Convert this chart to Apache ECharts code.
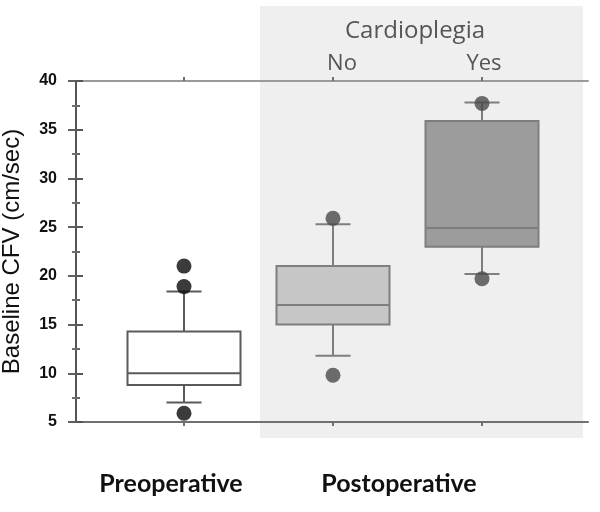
<!DOCTYPE html>
<html>
<head>
<meta charset="utf-8">
<script src="https://cdn.jsdelivr.net/npm/echarts@6/dist/echarts.min.js"></script>
<style>
html,body{margin:0;padding:0;background:#fff;}
#chart{width:600px;height:512px;}
</style>
</head>
<body>
<div id="chart"></div>
<script>
// ---- data ----
const categories = ['Preoperative', 'No', 'Yes'];
const whiskerLow = [7.0, 11.8, 20.2];
const q1 = [8.8, 15.0, 23.0];
const median = [10.0, 17.0, 24.9];
const q3 = [14.3, 21.0, 35.9];
const whiskerHigh = [18.4, 25.3, 37.8];
const outlierCat = [0, 0, 0, 1, 1, 2, 2];
const outlierVal = [21.0, 18.9, 5.9, 25.9, 9.8, 37.7, 19.7];
const yTicks = { min: 5, max: 40, interval: 5 };
const groupTitle = 'Cardioplegia';
const groupLabels = ['No', 'Yes'];
const phaseLabels = ['Preoperative', 'Postoperative'];
const yAxisName = 'Baseline CFV (cm/sec)';

// ---- styles ----
const boxFill = ['#ffffff', '#c6c6c6', '#9c9c9c'];
const boxStroke = ['#5a5a5a', '#7e7e7e', '#7e7e7e'];
const dotColor = ['#0a0a0a', '#4a4a4a', '#4a4a4a'];
const BOX_W = 113, CAP_W = 35;

const boxRows = categories.map((c, i) => [i, whiskerLow[i], q1[i], median[i], q3[i], whiskerHigh[i]]);
const outlierRows = outlierCat.map((c, i) => ({ value: [c, outlierVal[i]], itemStyle: { color: dotColor[c] } }));

function renderBox(params, api) {
  const i = api.value(0);
  const lo = api.coord([i, api.value(1)]);
  const b1 = api.coord([i, api.value(2)]);
  const md = api.coord([i, api.value(3)]);
  const b3 = api.coord([i, api.value(4)]);
  const hi = api.coord([i, api.value(5)]);
  const x = lo[0], hw = BOX_W / 2, cw = CAP_W / 2;
  const ls = { stroke: boxStroke[i], lineWidth: 2 };
  return {
    type: 'group',
    children: [
      { type: 'line', shape: { x1: x, y1: hi[1], x2: x, y2: b3[1] }, style: ls },
      { type: 'line', shape: { x1: x, y1: b1[1], x2: x, y2: lo[1] }, style: ls },
      { type: 'line', shape: { x1: x - cw, y1: hi[1], x2: x + cw, y2: hi[1] }, style: ls },
      { type: 'line', shape: { x1: x - cw, y1: lo[1], x2: x + cw, y2: lo[1] }, style: ls },
      { type: 'rect', shape: { x: x - hw, y: b3[1], width: BOX_W, height: b1[1] - b3[1] },
        style: { fill: boxFill[i], stroke: boxStroke[i], lineWidth: 2 } },
      { type: 'line', shape: { x1: x - hw, y1: md[1], x2: x + hw, y2: md[1] }, style: ls }
    ]
  };
}

const chart = echarts.init(document.getElementById('chart'), null, { renderer: 'canvas' });
const gridTop = 81, gridH = 341;
chart.setOption({
  animation: false,
  backgroundColor: '#ffffff',
  graphic: [
    { type: 'rect', z: -10, shape: { x: 260, y: 6, width: 323, height: 432 }, style: { fill: '#efefef' } },
    { type: 'text', z: 100, x: 415, y: 31, style: { text: groupTitle, fill: '#555555', font: '24px "Open Sans"', align: 'center', verticalAlign: 'middle' } },
    { type: 'text', z: 100, x: 342, y: 64, style: { text: groupLabels[0], fill: '#555555', font: '22px "Open Sans"', align: 'center', verticalAlign: 'middle' } },
    { type: 'text', z: 100, x: 484, y: 64, style: { text: groupLabels[1], fill: '#555555', font: '22px "Open Sans"', align: 'center', verticalAlign: 'middle' } },
    { type: 'text', z: 100, x: 171, y: 484, style: { text: phaseLabels[0], fill: '#111111', font: 'bold 25px Lato', align: 'center', verticalAlign: 'middle' } },
    { type: 'text', z: 100, x: 399, y: 484, style: { text: phaseLabels[1], fill: '#111111', font: 'bold 25px Lato', align: 'center', verticalAlign: 'middle' } }
  ],
  grid: [
    { left: 76, top: gridTop, width: 512, height: gridH, outerBoundsMode: 'none', containLabel: false },
    { left: 109.5, top: gridTop, width: 447, height: gridH, outerBoundsMode: 'none', containLabel: false }
  ],
  xAxis: [
    { gridIndex: 0, type: 'value', min: 0, max: 1, position: 'bottom',
      axisLine: { show: true, lineStyle: { color: '#707070', width: 2 } },
      axisTick: { show: false }, axisLabel: { show: false }, splitLine: { show: false } },
    { gridIndex: 0, type: 'value', min: 0, max: 1, position: 'top',
      axisLine: { show: true, lineStyle: { color: '#9a9a9a', width: 2 } },
      axisTick: { show: false }, axisLabel: { show: false }, splitLine: { show: false } },
    { gridIndex: 1, type: 'category', data: categories, position: 'bottom', boundaryGap: true,
      axisLine: { show: false },
      axisTick: { show: true, alignWithLabel: true, length: 4, lineStyle: { color: '#707070', width: 2 } },
      axisLabel: { show: false }, splitLine: { show: false } },
    { gridIndex: 1, type: 'category', data: categories, position: 'top', boundaryGap: true,
      axisLine: { show: false },
      axisTick: { show: true, alignWithLabel: true, length: 4, lineStyle: { color: '#707070', width: 2 } },
      axisLabel: { show: false }, splitLine: { show: false } }
  ],
  yAxis: [
    { gridIndex: 0, type: 'value', position: 'left', min: yTicks.min, max: yTicks.max, interval: yTicks.interval,
      name: yAxisName, nameLocation: 'middle', nameRotate: 90, nameGap: 52,
      nameTextStyle: { fontFamily: '"Liberation Sans", Arial, sans-serif', fontSize: 24, color: '#111111' },
      axisLine: { show: true, lineStyle: { color: '#505050', width: 2 } },
      axisTick: { show: true, length: 8, lineStyle: { color: '#606060', width: 2 } },
      minorTick: { show: true, splitNumber: 2, length: 4, lineStyle: { color: '#707070', width: 2 } },
      axisLabel: { margin: 19, fontFamily: '"Liberation Sans", Arial, sans-serif', fontWeight: 'bold', fontSize: 16, color: '#111111' },
      splitLine: { show: false } },
    { gridIndex: 0, type: 'value', position: 'right', min: yTicks.min, max: yTicks.max, interval: yTicks.interval,
      axisLine: { show: true, lineStyle: { color: '#555555', width: 2 } },
      axisTick: { show: true, length: 7, lineStyle: { color: '#555555', width: 2 } },
      minorTick: { show: true, splitNumber: 2, length: 4, lineStyle: { color: '#666666', width: 2 } },
      axisLabel: { show: false }, splitLine: { show: false } },
    { gridIndex: 1, type: 'value', min: yTicks.min, max: yTicks.max, show: false, splitLine: { show: false } }
  ],
  series: [
    { type: 'custom', xAxisIndex: 2, yAxisIndex: 2, renderItem: renderBox, data: boxRows,
      encode: { x: 0, y: [1, 2, 3, 4, 5] }, z: 2, silent: true },
    { type: 'scatter', xAxisIndex: 2, yAxisIndex: 2, data: outlierRows, symbol: 'circle', symbolSize: 15, z: 3, silent: true }
  ]
});
</script>
</body>
</html>
